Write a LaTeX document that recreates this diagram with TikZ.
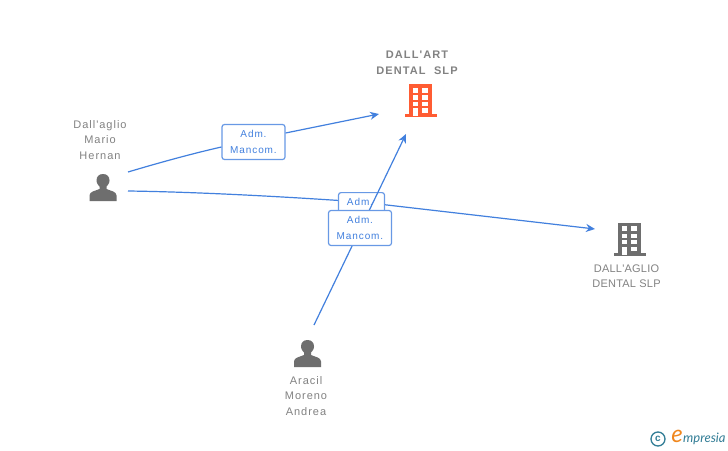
\documentclass[tikz,border=0pt]{standalone}
\usepackage{fontspec}
\setmainfont{Liberation Sans}
\newfontfamily\spacedfont[LetterSpace=9]{Liberation Sans}
\newfontfamily\wordfont[LetterSpace=10,WordSpace=2]{Liberation Sans}
\newfontfamily\plainfont[LetterSpace=2]{Liberation Sans}
\newfontfamily\logofont[ItalicFont=Lato Italic]{Lato}
\usetikzlibrary{arrows.meta}
\definecolor{linkblue}{RGB}{66,128,222}
\definecolor{iconred}{RGB}{255,92,51}
\definecolor{icongray}{RGB}{110,110,110}
\definecolor{textgray}{RGB}{130,130,130}
\definecolor{logoteal}{RGB}{50,125,150}
\definecolor{logoorange}{RGB}{240,135,30}
\tikzset{
 x=1pt,y=-1pt,
 conn/.style={draw=linkblue,line width=1.2pt},
 arrowconn/.style={conn,-{Stealth[length=9pt,width=8pt]}},
 lab/.style={draw=linkblue!80,line width=1.2pt,rounded corners=2.5pt,fill=white,minimum width=63pt,align=center,text=linkblue,font=\spacedfont\fontsize{10}{15.5}\selectfont,inner sep=0pt},
 personlabel/.style={text=textgray,align=center,font=\spacedfont\fontsize{11}{15.5}\selectfont,inner sep=0pt},
 personicon/.pic={
   \fill[icongray] (-13.5,13.5) -- (-13.5,8) .. controls (-13.5,4) and (-8,3.5) .. (-3.5,1.5) -- (-3.5,-1) .. controls (-6.5,-4) and (-6.5,-6) .. (-6.5,-7) .. controls (-6.5,-11) and (-4,-13.5) .. (0,-13.5) .. controls (4,-13.5) and (6.5,-11) .. (6.5,-7) .. controls (6.5,-6) and (6.5,-4) .. (3.5,-1) -- (3.5,1.5) .. controls (8,3.5) and (13.5,4) .. (13.5,8) -- (13.5,13.5) -- cycle;
 },
 buildingicon/.pic={
   \fill[pic actions] (-11.5,-16) rectangle (11.5,16);
   \fill[pic actions] (-16,14) rectangle (16,17);
   \fill[white] (-8,-12.5) rectangle (-3,-7.5);
   \fill[white] (1.5,-12.5) rectangle (7,-7.5);
   \fill[white] (-8,-5) rectangle (-3,-0.5);
   \fill[white] (1.5,-5) rectangle (7,-0.5);
   \fill[white] (-8,1.5) rectangle (-3,5.5);
   \fill[white] (1.5,1.5) rectangle (7,5.5);
   \fill[white] (-8,8) rectangle (-3,16);
   \fill[white] (1.5,8) rectangle (7,12.5);
 },
}
\begin{document}
\begin{tikzpicture}
\useasboundingbox (0,0) rectangle (728,450);
\fill[white] (0,0) rectangle (728,450);
% free ends
\coordinate (p1a) at (128,172);
\coordinate (p1b) at (128,191);
\coordinate (p3a) at (314,325);
\coordinate (c1a) at (379,114);
\coordinate (c1b) at (406,134);
\coordinate (c2a) at (595,229);
\coordinate (mid) at (361,202);
% labels placed first for names
\path (253.5,142) node[lab,minimum height=35pt] (l1) {Adm.\\Mancom.};
% connectors
\draw[conn] (p1a) .. controls (165,161) and (195,153) .. ([yshift=-5pt]l1.west);
\draw[arrowconn] ([yshift=9pt]l1.east) -- (c1a);
\draw[conn] (p1b) .. controls (200,192) and (290,197) .. (mid);
\draw[arrowconn] (mid) -- (c2a);
% labels
\node[lab,minimum width=46pt,minimum height=20pt,anchor=north] (l2) at (361.5,192) {};
\node[text=linkblue,font=\spacedfont\fontsize{10}{11}\selectfont,inner sep=0pt] (l2t) at (360,202) {Adm.};
\draw[arrowconn] (p3a) -- (c1b);
\node[lab,minimum height=35pt] (l3) at (360,228) {Adm.\\Mancom.};
% icons
\pic at (103,187.5) {personicon};
\pic at (307.5,353.5) {personicon};
\pic[fill=iconred] at (420.5,100) {buildingicon};
\pic[fill=icongray] at (629.5,238.5) {buildingicon};
% texts
\node[personlabel] (p1) at (100,140) {Dall'aglio\\Mario\\Hernan};
\node[personlabel] (p3) at (306,396) {Aracil\\Moreno\\Andrea};
\node[personlabel,font=\wordfont\bfseries\fontsize{11}{15.5}\selectfont] (c1) at (417,63) {DALL'ART\\DENTAL SLP};
\node[personlabel,font=\plainfont\fontsize{11}{15.5}\selectfont] (c2) at (626.5,276) {DALL'AGLIO\\DENTAL SLP};
% logo
\node[draw=logoteal,circle,line width=1.3pt,minimum size=14pt,inner sep=0pt,text=logoteal,font=\fontsize{10}{10}\selectfont\bfseries] (copy) at (658,439) {c};
\node[text=logoorange,font=\logofont\itshape\fontsize{24}{24}\selectfont,inner sep=0pt] (loge) at (677,436) {e};
\node[text=logoteal,font=\logofont\itshape\fontsize{13}{13}\selectfont,inner sep=0pt,anchor=west] (logt) at (683,439) {mpresia};
\end{tikzpicture}
\end{document}
